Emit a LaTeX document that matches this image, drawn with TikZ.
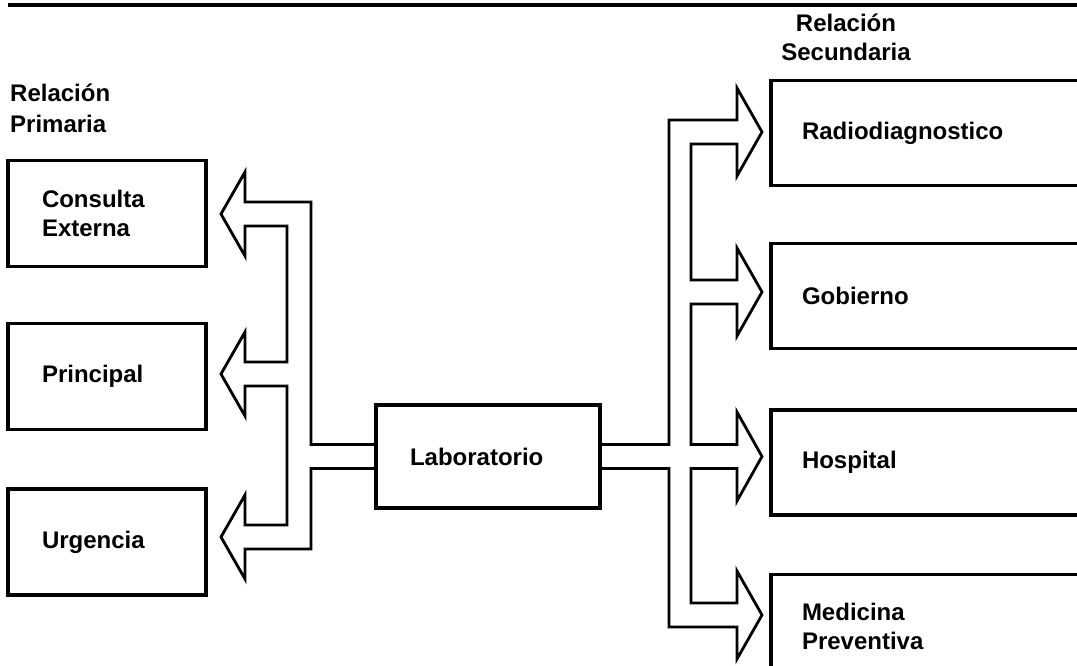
\documentclass[tikz,border=0pt]{standalone}
\usepackage{fontspec}
\setmainfont{Liberation Sans}
\usetikzlibrary{positioning}

\begin{document}
\begin{tikzpicture}[
  x=1pt, y=-1pt,
  every node/.style={font=\fontsize{24}{29}\selectfont\bfseries},
  box/.style={rectangle, draw, line width=3.2pt, align=left,
              inner xsep=34pt, text width=130pt, minimum height=106pt},
  rbox/.style={box, inner xsep=31pt, text width=260pt, minimum height=105pt},
  pipe/.style={line width=2.8pt, line join=miter}
]
  \useasboundingbox (0,0) rectangle (1077,666);
  \clip (0,0) rectangle (1077,666);

  % rule at the top
  \draw[line width=3.6pt] (8,5) -- (1077,5);

  % headings
  \node[anchor=north west, align=left, inner sep=0pt] (prim) at (10,84)
    {Relación\\[2pt]Primaria};
  \node[anchor=north, align=center, inner sep=0pt] (sec) at (846,14)
    {Relación\\Secundaria};

  % primary side
  \node[box] (consulta) at (107,213.5) {Consulta\\Externa};
  \node[box] (principal) [below=54pt of consulta] {Principal};
  \node[box] (urgencia) [below=56pt of principal] {Urgencia};

  % centre
  \node[box, text width=156pt, minimum height=103pt] (lab) at (488,456.5)
    {Laboratorio};

  % secondary side
  \node[rbox] (radio) at (932,133) {Radiodiagnostico};
  \node[rbox] (gobierno) [below=55pt of radio] {Gobierno};
  \node[rbox] (hospital) [below=58pt of gobierno] {Hospital};
  \node[rbox] (medicina) [below=56pt of hospital] {Medicina\\Preventiva};

  % hollow arrows to the left
  \draw[pipe] ([yshift=12pt]lab.west) -- (311,444.5) -- (311,202)
    -- (245,202) -- (245,172) -- (221,214) -- (245,256) -- (245,226)
    -- (287,226) -- (287,362)
    -- (245,362) -- (245,332) -- (221,374) -- (245,416) -- (245,386)
    -- (287,386) -- (287,525)
    -- (245,525) -- (245,495) -- (221,537) -- (245,579) -- (245,549)
    -- (311,549) -- (311,468.5) -- ([yshift=-12pt]lab.west);

  % hollow arrows to the right
  \draw[pipe] ([yshift=12pt]lab.east) -- (669,444.5) -- (669,120)
    -- (737,120) -- (737,88) -- (762,132) -- (737,176) -- (737,144)
    -- (691,144) -- (691,280)
    -- (737,280) -- (737,248) -- (762,292) -- (737,336) -- (737,304)
    -- (691,304) -- (691,444.5)
    -- (737,444.5) -- (737,412) -- (762,456.5) -- (737,501) -- (737,468.5)
    -- (691,468.5) -- (691,603)
    -- (737,603) -- (737,571) -- (762,615) -- (737,659) -- (737,627)
    -- (669,627) -- (669,468.5) -- ([yshift=-12pt]lab.east);
\end{tikzpicture}
\end{document}
